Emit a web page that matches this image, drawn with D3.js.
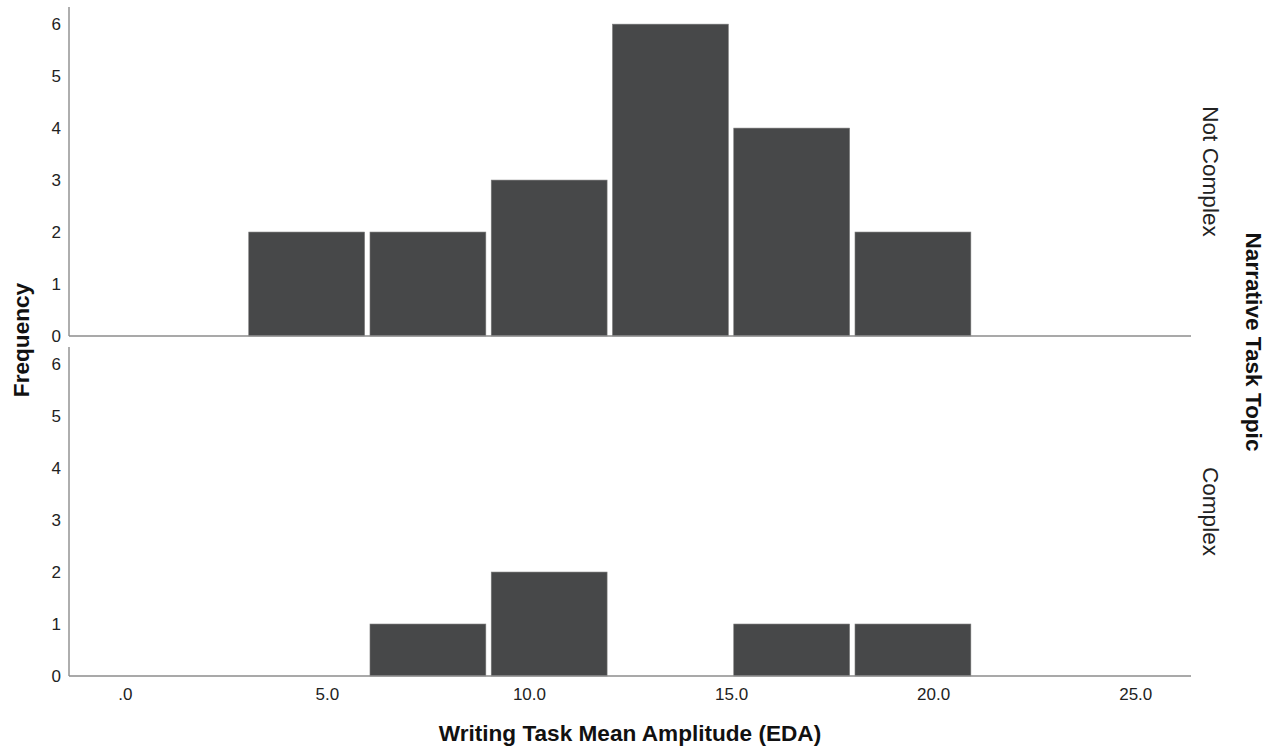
<!DOCTYPE html>
<html>
<head>
<meta charset="utf-8">
<script src="https://cdn.jsdelivr.net/npm/d3@7"></script>
<style>
  html, body { margin: 0; padding: 0; background: #fff; }
  svg { display: block; font-family: "Liberation Sans", Arial, Helvetica, sans-serif; }
</style>
</head>
<body>
<svg id="chart" width="1278" height="747"></svg>
<script>
// Histogram bins (EDA amplitude) and counts per narrative-topic panel
const binEdges = [3, 6, 9, 12, 15, 18, 21];
const panelNames = ["Not Complex", "Complex"];
const notComplexCounts = [2, 2, 3, 6, 4, 2];
const complexCounts = [0, 1, 2, 0, 1, 1];
const xTickValues = [0, 5, 10, 15, 20, 25];
const yTickValues = [0, 1, 2, 3, 4, 5, 6];

const xTitle = "Writing Task Mean Amplitude (EDA)";
const yTitle = "Frequency";
const facetTitle = "Narrative Task Topic";

const svg = d3.select("#chart");
const axisColor = "#8c8c8c";
const barColor = "#474849";
const titleSize = 22.6;

const left = 69, right = 1191;
const x = d3.scaleLinear().domain([-1.38, 26.38]).range([left, right]);

const panels = [
  { name: panelNames[0], counts: notComplexCounts, top: 7, bottom: 336 },
  { name: panelNames[1], counts: complexCounts, top: 347, bottom: 676 }
];

const fmtX = v => d3.format(".1f")(v).replace(/^0\./, ".");

panels.forEach(p => {
  const y = d3.scaleLinear().domain([0, 6.33]).range([p.bottom, p.top]);
  const g = svg.append("g");

  const bins = p.counts.map((c, i) => ({ x0: binEdges[i], x1: binEdges[i + 1], count: c }))
    .filter(b => b.count > 0);

  g.selectAll("rect.bar").data(bins).join("rect")
    .attr("class", "bar")
    .attr("x", d => x(d.x0) + 2.7)
    .attr("width", d => x(d.x1) - x(d.x0) - 5.4)
    .attr("y", d => y(d.count))
    .attr("height", d => y(0) - y(d.count))
    .attr("fill", barColor)
    .attr("stroke", "#7a7a7a")
    .attr("stroke-width", 0.6);

  // y axis labels
  const ya = d3.axisLeft(y).tickValues(yTickValues).tickSize(0).tickPadding(8).tickFormat(d3.format("d"));
  const yg = g.append("g").attr("transform", `translate(${left},0)`).call(ya);
  yg.select(".domain").remove();
  yg.selectAll("text").attr("font-size", 17).attr("fill", "#222")
    .attr("font-family", "Liberation Sans, Arial, sans-serif");

  // axis lines
  g.append("line").attr("x1", left).attr("x2", left).attr("y1", p.top).attr("y2", p.bottom)
    .attr("stroke", axisColor).attr("stroke-width", 1.4);
  g.append("line").attr("x1", left).attr("x2", right).attr("y1", p.bottom).attr("y2", p.bottom)
    .attr("stroke", axisColor).attr("stroke-width", 1.4);

  // facet label
  g.append("text")
    .attr("transform", `translate(1203,${(p.top + p.bottom) / 2}) rotate(90)`)
    .attr("text-anchor", "middle")
    .attr("font-size", titleSize)
    .attr("fill", "#222")
    .text(p.name);
});

// x axis tick labels
const xa = d3.axisBottom(x).tickValues(xTickValues).tickSize(0).tickPadding(12).tickFormat(fmtX);
const xg = svg.append("g").attr("transform", "translate(0,676)").call(xa);
xg.select(".domain").remove();
xg.selectAll("text").attr("font-size", 17).attr("fill", "#222")
  .attr("font-family", "Liberation Sans, Arial, sans-serif");

// titles
svg.append("text")
  .attr("x", 630).attr("y", 741)
  .attr("text-anchor", "middle")
  .attr("font-size", titleSize).attr("font-weight", "bold").attr("fill", "#111")
  .text(xTitle);

svg.append("text")
  .attr("transform", "translate(29,340) rotate(-90)")
  .attr("text-anchor", "middle")
  .attr("font-size", titleSize).attr("font-weight", "bold").attr("fill", "#111")
  .text(yTitle);

svg.append("text")
  .attr("transform", "translate(1246,342) rotate(90)")
  .attr("text-anchor", "middle")
  .attr("font-size", titleSize).attr("font-weight", "bold").attr("fill", "#111")
  .text(facetTitle);
</script>
</body>
</html>
